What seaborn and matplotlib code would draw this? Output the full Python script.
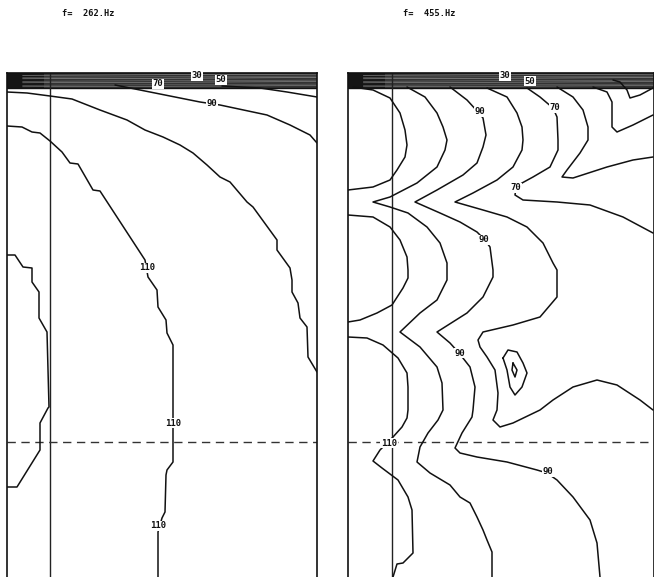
import matplotlib
matplotlib.use("Agg")
import matplotlib.pyplot as plt
import seaborn as sns
import numpy as np

sns.set_style("white")
plt.rcParams["font.family"] = ["DejaVu Sans Mono", "DejaVu Sans"]

# Panel titles (frequency of each field)
titles = ["f=  262.Hz", "f=  455.Hz"]

# Field extent: range (x) and depth (y, downwards), same units for both panels
depth_max = 504
source_range = [43, 44]        # vertical reference line per panel
ref_depth = 369                # horizontal dashed reference depth
surface_layer = 15             # depth of the dense near-surface contour band

# ---- 262 Hz contours (range, depth) ----
lo_70 = [(215, 13), (253, 15), (280, 19), (310, 24)]
lo_90 = [(108, 12), (143, 19), (193, 29), (213, 32), (260, 42), (283, 52),
         (303, 62), (310, 70)]
lo_100 = [(0, 19), (20, 20), (43, 23), (65, 26), (93, 37), (120, 47), (138, 57),
          (156, 64), (173, 72), (186, 80), (200, 92), (213, 104), (223, 109),
          (240, 129), (246, 134), (270, 167), (270, 177), (283, 195), (285, 207),
          (285, 219), (291, 230), (293, 245), (300, 254), (301, 284), (310, 299)]
lo_110 = [(0, 53), (15, 54), (25, 59), (33, 60), (43, 68), (55, 79), (63, 90),
          (71, 91), (86, 117), (93, 118), (138, 187), (141, 204), (150, 217),
          (151, 234), (159, 247), (160, 260), (166, 272), (166, 345), (166, 357),
          (166, 389), (160, 397), (159, 402), (158, 439), (155, 445), (151, 459),
          (151, 504)]
lo_120 = [(0, 182), (8, 182), (16, 194), (25, 195), (25, 209), (32, 219),
          (32, 245), (40, 259), (42, 334), (41, 335), (33, 350), (33, 377),
          (10, 414), (0, 414)]
lo_paths = [lo_70, lo_90, lo_100, lo_110, lo_120]
lo_labels = [("30", 190, 3), ("50", 214, 7), ("70", 151, 11), ("90", 205, 30),
             ("110", 140, 195), ("110", 166, 350), ("110", 151, 453)]

# ---- 455 Hz contours (range, depth) ----
hi_lobe1 = [(5, 14), (25, 17), (42, 25), (52, 40), (57, 57), (59, 72), (57, 84),
            (49, 97), (42, 107), (25, 114), (0, 117)]
hi_lobe2 = [(0, 142), (25, 144), (42, 154), (52, 167), (59, 184), (60, 197),
            (60, 205), (55, 215), (44, 232), (29, 240), (12, 247), (0, 249)]
hi_110 = [(0, 264), (19, 265), (35, 272), (50, 285), (59, 300), (60, 314),
          (60, 337), (59, 345), (54, 354), (45, 364), (32, 377), (25, 388),
          (34, 395), (50, 407), (60, 424), (64, 437), (65, 480), (55, 490),
          (49, 491), (45, 504)]
hi_100 = [(59, 14), (77, 24), (89, 40), (95, 54), (99, 67), (97, 77), (89, 94),
          (69, 110), (42, 124), (25, 129), (42, 134), (60, 140), (79, 154),
          (92, 170), (99, 190), (99, 207), (89, 227), (72, 240), (52, 259),
          (72, 274), (89, 294), (94, 310), (95, 337), (90, 347), (80, 360),
          (72, 374), (69, 389), (82, 400), (102, 412), (112, 424), (122, 430),
          (129, 444), (135, 457), (139, 467), (144, 479), (144, 504)]
hi_90 = [(102, 14), (119, 27), (130, 39), (135, 45), (138, 62), (135, 74),
         (129, 90), (115, 102), (89, 117), (67, 129), (92, 140), (112, 149),
         (129, 159), (136, 166), (142, 174), (145, 197), (145, 204), (135, 224),
         (119, 240), (89, 259), (102, 270), (111, 280), (122, 294), (127, 314),
         (125, 337), (124, 344), (114, 360), (107, 375), (112, 380), (129, 384),
         (159, 389), (189, 397), (199, 400), (209, 407), (225, 424), (242, 447),
         (249, 470), (252, 504)]
hi_80 = [(139, 15), (159, 24), (169, 40), (174, 54), (175, 67), (174, 77),
         (165, 94), (149, 107), (125, 120), (107, 129), (135, 137), (159, 144),
         (179, 154), (195, 170), (205, 190), (209, 197), (209, 207), (209, 224),
         (192, 244), (165, 252), (135, 259), (130, 267), (132, 274), (139, 284),
         (147, 297), (150, 320), (149, 337), (145, 347), (152, 354), (165, 350),
         (192, 337), (205, 327), (225, 314), (249, 307), (269, 312), (292, 327),
         (305, 337)]
hi_70 = [(179, 15), (192, 24), (205, 35), (209, 44), (210, 67), (210, 77),
         (202, 94), (185, 104), (174, 110), (168, 115), (167, 122), (175, 127),
         (209, 129), (242, 132), (275, 144), (305, 160)]
hi_60 = [(209, 14), (225, 24), (235, 37), (240, 54), (240, 67), (232, 80),
         (219, 97), (214, 104), (225, 105), (259, 94), (285, 87), (305, 84)]
hi_50 = [(245, 14), (259, 19), (264, 29), (264, 54), (269, 59), (285, 52),
         (305, 42)]
hi_40 = [(265, 7), (272, 9), (279, 17), (282, 25), (292, 22), (305, 15)]
hi_peak = [(155, 285), (160, 277), (169, 279), (175, 290), (179, 300), (174, 314),
           (167, 322), (162, 314), (159, 297), (155, 285)]
hi_peak_in = [(165, 290), (169, 297), (167, 304), (164, 297), (165, 290)]
hi_paths = [hi_lobe1, hi_lobe2, hi_110, hi_100, hi_90, hi_80, hi_70, hi_60,
            hi_50, hi_40, hi_peak, hi_peak_in]
hi_labels = [("30", 157, 3), ("50", 182, 8), ("70", 207, 35), ("90", 132, 39),
             ("70", 168, 115), ("90", 136, 167), ("90", 112, 280),
             ("110", 41, 370), ("90", 200, 399)]

# streak depths and shades inside the near-surface band
band_depths = [1.5, 3.5, 5.0, 7.5, 9.0, 11.5, 13.0]
band_shades = ["#9a9a9a", "#6e6e6e", "#a5a5a5", "#7a7a7a", "#959595", "#6a6a6a",
               "#8c8c8c"]

W, H = 654, 577
fig = plt.figure(figsize=(W / 100, H / 100), dpi=100)
fig.patch.set_facecolor("white")

panels = [
    dict(left=7, right=317, paths=lo_paths, labels=lo_labels, title=titles[0],
         tx=62, src=source_range[0]),
    dict(left=348, right=653.5, paths=hi_paths, labels=hi_labels, title=titles[1],
         tx=403, src=source_range[1]),
]
top_px = 73

for p in panels:
    width = p["right"] - p["left"]
    ax = fig.add_axes([p["left"] / W, 0, width / W, (H - top_px) / H])
    ax.set_xlim(0, width)
    ax.set_ylim(depth_max, 0)
    ax.set_xticks([])
    ax.set_yticks([])
    for side in ["left", "right", "top"]:
        ax.spines[side].set_color("#111111")
        ax.spines[side].set_linewidth(1.2)
    ax.spines["bottom"].set_visible(False)

    # dense near-surface contours
    ax.fill_between([0, width], 0, surface_layer, color="#333333", lw=0, zorder=1)
    ax.fill_between([0, width * 0.12], 0, surface_layer, color="#151515", lw=0,
                    zorder=1)
    for d, c in zip(band_depths, band_shades):
        sns.lineplot(x=[width * 0.05, width], y=[d + 0.8, d - 0.4], color=c,
                     lw=0.4, ax=ax, zorder=2)
    ax.plot([0, width], [surface_layer, surface_layer], color="#111111", lw=1.0,
            zorder=2)

    # reference lines
    ax.axvline(p["src"], color="#222222", lw=1.0, zorder=2)
    ax.axhline(ref_depth, color="#333333", lw=1.0, ls=(0, (6, 4)), zorder=2)

    for path in p["paths"]:
        xs = [pt[0] for pt in path]
        ys = [pt[1] for pt in path]
        sns.lineplot(x=xs, y=ys, sort=False, estimator=None, color="#111111",
                     lw=1.1, ax=ax, zorder=3)

    for txt, x, y in p["labels"]:
        ax.text(x, y, txt, ha="center", va="center", fontsize=6.5,
                fontweight="bold", color="#111111", zorder=5,
                bbox=dict(facecolor="white", edgecolor="none", pad=0.6))

    fig.text(p["tx"] / W, 1 - 13 / H, p["title"], ha="left", va="center",
             fontsize=6.2, fontweight="bold", color="#111111")

fig.savefig("out.png", dpi=100, facecolor="white")
